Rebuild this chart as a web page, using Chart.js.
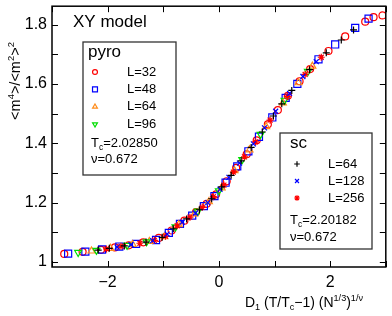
<!DOCTYPE html>
<html>
<head>
<meta charset="utf-8">
<script src="https://cdn.jsdelivr.net/npm/chart.js@4.4.1/dist/chart.umd.min.js"></script>
<style>
  body { margin: 0; background: #fff; }
  #wrap { width: 392px; height: 316px; }
</style>
</head>
<body>
<div id="wrap"><canvas id="grafico" width="392" height="316"></canvas></div>
<script>
// pontos: [x, y]
const pyroL32 = [[-2.78,1.027],[-2.45,1.034],[-2.12,1.041],[-1.87,1.049],[-1.62,1.056],[-1.36,1.066],[-1.08,1.081],[-0.85,1.106],[-0.62,1.139],[-0.41,1.168],[-0.22,1.196],[-0.05,1.228],[0.14,1.272],[0.31,1.317],[0.50,1.363],[0.68,1.410],[0.88,1.464],[1.06,1.512],[1.24,1.560],[1.45,1.609],[1.64,1.650],[1.97,1.711],[2.27,1.760],[2.63,1.810],[2.78,1.825],[2.94,1.831]];
const pyroL48 = [[-2.71,1.028],[-2.40,1.035],[-2.10,1.042],[-1.79,1.052],[-1.49,1.061],[-1.13,1.074],[-0.90,1.098],[-0.70,1.128],[-0.48,1.156],[-0.27,1.188],[-0.08,1.222],[0.12,1.267],[0.33,1.322],[0.53,1.373],[0.72,1.422],[0.96,1.487],[1.20,1.553],[1.41,1.600],[1.79,1.683],[2.09,1.733],[2.45,1.789],[2.69,1.820]];
const pyroL64 = [[-2.29,1.037],[-1.95,1.046],[-1.55,1.059],[-1.25,1.069],[-0.98,1.085],[-0.72,1.126],[-0.44,1.162],[-0.18,1.203],[0.05,1.250],[0.28,1.308],[0.55,1.378],[0.85,1.456],[1.15,1.536],[1.43,1.604],[1.68,1.660]];
const pyroL96 = [[-2.53,1.032],[-2.20,1.039],[-1.65,1.056],[-1.30,1.068],[-0.78,1.118],[-0.38,1.171],[0.00,1.240],[0.42,1.345],[0.75,1.430],[1.18,1.545],[1.60,1.642]];
const scL64 = [[-2.17,1.040],[-1.97,1.046],[-1.70,1.054],[-1.31,1.067],[-1.02,1.083],[-0.82,1.112],[-0.58,1.145],[-0.35,1.176],[-0.13,1.213],[0.05,1.253],[0.22,1.292],[0.40,1.341],[0.58,1.386],[0.78,1.438],[0.98,1.492],[1.13,1.533],[1.31,1.578],[1.63,1.648],[1.93,1.705],[2.20,1.748],[2.42,1.782]];
const scL128 = [[-1.83,1.050],[-1.58,1.058],[-1.19,1.072],[-0.93,1.094],[-0.66,1.134],[-0.42,1.165],[-0.20,1.200],[0.02,1.245],[0.18,1.285],[0.37,1.333],[0.62,1.398],[0.82,1.452],[1.02,1.508],[1.27,1.568],[1.51,1.625],[1.75,1.675]];
const scL256 = [[-2.02,1.044],[-1.76,1.053],[-1.42,1.063],[-1.16,1.073],[-0.96,1.087],[-0.75,1.122],[-0.52,1.151],[-0.30,1.184],[-0.10,1.220],[0.09,1.259],[0.26,1.303],[0.46,1.354],[0.66,1.405],[0.92,1.478],[1.23,1.558],[1.55,1.632],[1.84,1.690]];

const xTicks = [-3, -2, -1, 0, 1, 2, 3];
const xTickLabels = { "-2": "\u22122", "0": "0", "2": "2" };
const yTicks = [1.0, 1.1, 1.2, 1.3, 1.4, 1.5, 1.6, 1.7, 1.8];
const yTickLabels = { "1.0": "1", "1.2": "1.2", "1.4": "1.4", "1.6": "1.6", "1.8": "1.8" };

const pyroLabels = ["L=32", "L=48", "L=64", "L=96"];
const scLabels = ["L=64", "L=128", "L=256"];

const FONT = "'Liberation Sans', Arial, sans-serif";

const estilos = {
  pyro32: { pointStyle: "circle", color: "#ff0000", radius: 3.5 },
  pyro48: { pointStyle: "rect", color: "#0000ff", radius: 5 },
  pyro64: { pointStyle: "triangle", color: "#ff8c1a", radius: 4 },
  pyro96: { pointStyle: "triangle", rotation: 180, color: "#00dd00", radius: 4 },
  sc64: { pointStyle: "cross", color: "#000000", radius: 3.5 },
  sc128: { pointStyle: "crossRot", color: "#0000ff", radius: 3.5 },
  sc256: { pointStyle: "star", color: "#ff0000", radius: 3.5 }
};

const toXY = (arr) => arr.map((p) => ({ x: p[0], y: p[1] }));

function ds(label, dados, st, ordem) {
  return {
    label,
    data: toXY(dados),
    showLine: false,
    pointStyle: st.pointStyle,
    pointRotation: st.rotation || 0,
    pointRadius: st.radius,
    pointBorderColor: st.color,
    pointBackgroundColor: "rgba(0,0,0,0)",
    pointBorderWidth: 1.2,
    order: ordem
  };
}

// texto com sub/sobrescrito
function textoRico(ctx, partes, x, y, tam) {
  let cx = x;
  partes.forEach(([t, tipo]) => {
    let f = tam, dy = 0;
    if (tipo === "sub") { f = tam * 0.65; dy = tam * 0.25; }
    if (tipo === "sup") { f = tam * 0.65; dy = -tam * 0.42; }
    ctx.font = f + "px " + FONT;
    ctx.fillText(t, cx, y + dy);
    cx += ctx.measureText(t).width;
  });
  return cx - x;
}

function larguraRica(ctx, partes, tam) {
  let w = 0;
  partes.forEach(([t, tipo]) => {
    const f = tipo === "n" ? tam : tam * 0.65;
    ctx.font = f + "px " + FONT;
    w += ctx.measureText(t).width;
  });
  return w;
}

const desenhos = {
  id: "desenhos",
  afterDraw(chart) {
    const ctx = chart.ctx;
    const a = chart.chartArea;
    const sx = chart.scales.x;
    const sy = chart.scales.y;
    ctx.save();

    // moldura
    ctx.strokeStyle = "#000";
    ctx.lineWidth = 1.5;
    ctx.strokeRect(a.left, a.top, a.right - a.left, a.bottom - a.top);

    // ticks para dentro
    ctx.lineWidth = 1;
    ctx.beginPath();
    xTicks.forEach((v) => {
      const px = Math.round(sx.getPixelForValue(v)) + 0.5;
      ctx.moveTo(px, a.bottom); ctx.lineTo(px, a.bottom - 6);
      ctx.moveTo(px, a.top); ctx.lineTo(px, a.top + 6);
    });
    yTicks.forEach((v) => {
      const py = Math.round(sy.getPixelForValue(v)) + 0.5;
      ctx.moveTo(a.left, py); ctx.lineTo(a.left + 6, py);
      ctx.moveTo(a.right, py); ctx.lineTo(a.right - 6, py);
    });
    ctx.stroke();

    ctx.fillStyle = "#000";
    ctx.textBaseline = "alphabetic";
    ctx.textAlign = "left";

    ctx.font = "17px " + FONT;
    ctx.fillText("XY model", 73, 27);

    // caixa pyro
    ctx.strokeStyle = "#333";
    ctx.lineWidth = 1.3;
    ctx.fillStyle = "#fff";
    ctx.fillRect(83, 42, 93, 133);
    ctx.strokeRect(83, 42, 93, 133);
    ctx.fillStyle = "#000";
    ctx.font = "17px " + FONT;
    ctx.fillText("pyro", 88, 57);
    const pyroSt = [estilos.pyro32, estilos.pyro48, estilos.pyro64, estilos.pyro96];
    pyroLabels.forEach((l, i) => {
      const yy = 72 + i * 17.4;
      const st = pyroSt[i];
      ctx.strokeStyle = st.color;
      ctx.fillStyle = "rgba(0,0,0,0)";
      ctx.lineWidth = 1.2;
      Chart.helpers.drawPoint(ctx, {
        pointStyle: st.pointStyle, rotation: st.rotation || 0,
        radius: st.radius * 0.7, borderWidth: 1.2
      }, 95, yy);
      ctx.fillStyle = "#000";
      ctx.font = "13px " + FONT;
      ctx.textBaseline = "middle";
      ctx.fillText(l, 127, yy);
      ctx.textBaseline = "alphabetic";
    });
    textoRico(ctx, [["T", "n"], ["c", "sub"], ["=2.02850", "n"]], 91, 146.5, 13);
    ctx.font = "13px " + FONT;
    ctx.fillText("\u03bd=0.672", 91, 163);

    // caixa sc
    ctx.strokeStyle = "#333";
    ctx.lineWidth = 1.3;
    ctx.fillStyle = "#fff";
    ctx.fillRect(280, 133, 92, 116);
    ctx.strokeRect(280, 133, 92, 116);
    ctx.fillStyle = "#000";
    ctx.font = "17px " + FONT;
    ctx.fillText("sc", 290, 148);
    const scSt = [estilos.sc64, estilos.sc128, estilos.sc256];
    scLabels.forEach((l, i) => {
      const yy = 164 + i * 17;
      const st = scSt[i];
      ctx.strokeStyle = st.color;
      ctx.fillStyle = "rgba(0,0,0,0)";
      ctx.lineWidth = 1.2;
      Chart.helpers.drawPoint(ctx, {
        pointStyle: st.pointStyle, rotation: 0,
        radius: st.radius * 0.8, borderWidth: 1.2
      }, 297, yy);
      ctx.fillStyle = "#000";
      ctx.font = "13px " + FONT;
      ctx.textBaseline = "middle";
      ctx.fillText(l, 328, yy);
      ctx.textBaseline = "alphabetic";
    });
    textoRico(ctx, [["T", "n"], ["c", "sub"], ["=2.20182", "n"]], 290, 224, 13);
    ctx.font = "13px " + FONT;
    ctx.fillText("\u03bd=0.672", 290, 240.5);

    // titulo eixo x
    const tx = [["D", "n"], ["1", "sub"], [" (T/T", "n"], ["c", "sub"], ["\u22121) (N", "n"], ["1/3", "sup"], [")", "n"], ["1/\u03bd", "sup"]];
    textoRico(ctx, tx, 245, 306.5, 14);

    // titulo eixo y
    const ty = [["<m", "n"], ["4", "sup"], [">/<m", "n"], ["2", "sup"], [">", "n"], ["2", "sup"]];
    const wy = larguraRica(ctx, ty, 14.5);
    ctx.translate(20, 81 + wy / 2);
    ctx.rotate(-Math.PI / 2);
    textoRico(ctx, ty, 0, 0, 14.5);
    ctx.restore();
  }
};

new Chart(document.getElementById("grafico"), {
  type: "scatter",
  data: {
    datasets: [
      ds("L=64 sc", scL64, estilos.sc64, 0),
      ds("L=128 sc", scL128, estilos.sc128, 1),
      ds("L=256 sc", scL256, estilos.sc256, 2),
      ds("L=96", pyroL96, estilos.pyro96, 3),
      ds("L=64", pyroL64, estilos.pyro64, 4),
      ds("L=48", pyroL48, estilos.pyro48, 5),
      ds("L=32", pyroL32, estilos.pyro32, 6)
    ]
  },
  options: {
    responsive: false,
    animation: false,
    devicePixelRatio: 1,
    layout: { padding: { left: 0, right: 3, top: 3, bottom: 0 } },
    plugins: { legend: { display: false }, tooltip: { enabled: false } },
    scales: {
      x: {
        type: "linear",
        min: -3,
        max: 3,
        grid: { display: false, drawTicks: false },
        border: { display: false },
        afterFit: (s) => { s.height = 49; s.paddingLeft = 0; s.paddingRight = 0; },
        afterBuildTicks: (s) => { s.ticks = xTicks.map((v) => ({ value: v })); },
        ticks: {
          color: "#000",
          padding: 6,
          maxRotation: 0,
          autoSkip: false,
          font: { family: FONT, size: 16 },
          callback: (v) => xTickLabels[String(v)] || ""
        }
      },
      y: {
        type: "linear",
        min: 0.983,
        max: 1.862,
        grid: { display: false, drawTicks: false },
        border: { display: false },
        afterFit: (s) => { s.width = 52; s.paddingTop = 0; s.paddingBottom = 0; },
        afterBuildTicks: (s) => { s.ticks = yTicks.map((v) => ({ value: v })); },
        ticks: {
          color: "#000",
          padding: 5,
          autoSkip: false,
          font: { family: FONT, size: 16 },
          callback: (v) => yTickLabels[v.toFixed(1)] || ""
        }
      }
    }
  },
  plugins: [desenhos]
});
</script>
</body>
</html>
